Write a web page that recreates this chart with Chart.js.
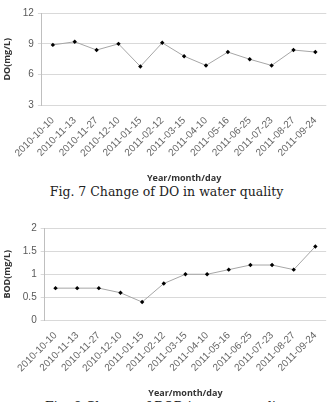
<!DOCTYPE html>
<html>
<head>
<meta charset="utf-8">
<script src="https://cdn.jsdelivr.net/npm/chart.js@4.4.1/dist/chart.umd.min.js"></script>
<style>
    body { margin: 0; background: #fff; width: 333px; height: 402px; overflow: hidden; position: relative; }
    canvas { position: absolute; left: 0; }
    .caption { position: absolute; left: 0; width: 333px; text-align: center; font-family: "DejaVu Serif", serif; font-size: 12.5px; color: #222; white-space: nowrap; }
</style>
</head>
<body>
<canvas id="doChart" width="333" height="184" style="top:0px"></canvas>
<div class="caption" style="top:184px">Fig. 7 Change of DO in water quality</div>
<canvas id="bodChart" width="333" height="184" style="top:215px"></canvas>
<div class="caption" style="top:399px">Fig. 8 Change of BOD in water quality</div>
<script>
const dates = ["2010-10-10", "2010-11-13", "2010-11-27", "2010-12-10", "2011-01-15", "2011-02-12", "2011-03-15",
    "2011-04-10", "2011-05-16", "2011-06-25", "2011-07-23", "2011-08-27", "2011-09-24"]
const doValues = [8.9, 9.2, 8.4, 9.0, 6.8, 9.1, 7.8, 6.9, 8.2, 7.5, 6.9, 8.4, 8.2]
const bodValues = [0.7, 0.7, 0.7, 0.6, 0.4, 0.8, 1.0, 1.0, 1.1, 1.2, 1.2, 1.1, 1.6]
const doTicks = [3, 6, 9, 12]
const bodTicks = [0, 0.5, 1, 1.5, 2]

function CreateLineChart(canvasId, values, ticks, yTitle) {
    const chartData = {
        labels: dates,
        datasets: [
            {
                label: yTitle,
                data: values,
                borderColor: "#a6a6a6",
                borderWidth: 1,
                pointStyle: "rectRot",
                pointRadius: 2.2,
                pointBackgroundColor: "#000",
                pointBorderColor: "#000",
                pointBorderWidth: 0,
                tension: 0
            },
        ],
    };
    // config
    const config = {
        type: "line",
        data: chartData,
        options: {
            responsive: false,
            animation: false,
            layout: { padding: { top: 13, right: 2, left: 2, bottom: 0 } },
            plugins: {
                legend: { display: false },
                tooltip: { enabled: false },
            },
            scales: {
                x: {
                    offset: true,
                    grid: { display: false, drawTicks: false },
                    border: { display: false },
                    ticks: {
                        minRotation: 45,
                        maxRotation: 45,
                        autoSkip: false,
                        padding: 9,
                        color: "#666",
                        font: { family: "'Liberation Sans', sans-serif", size: 10 }
                    },
                    title: {
                        display: true,
                        text: "Year/month/day",
                        color: "#333",
                        padding: { top: 5, bottom: 0 },
                        font: { family: "'Open Sans', sans-serif", size: 9, weight: "bold" }
                    }
                },
                y: {
                    min: ticks[0],
                    max: ticks[ticks.length - 1],
                    afterBuildTicks: function (axis) {
                        axis.ticks = ticks.map(v => ({ value: v }))
                    },
                    grid: { color: "#d9d9d9", lineWidth: 1, tickLength: 4 },
                    border: { color: "#bfbfbf" },
                    ticks: {
                        padding: 4,
                        color: "#595959",
                        callback: function (value) { return String(value) },
                        font: { family: "'Liberation Sans', sans-serif", size: 10 }
                    },
                    title: {
                        display: true,
                        text: yTitle,
                        color: "#333",
                        padding: { top: 0, bottom: 6 },
                        font: { family: "'Open Sans', sans-serif", size: 9, weight: "bold" }
                    }
                }
            }
        }
    };

    // render init block
    return new Chart(document.getElementById(canvasId), config);
}

CreateLineChart("doChart", doValues, doTicks, "DO(mg/L)")
CreateLineChart("bodChart", bodValues, bodTicks, "BOD(mg/L)")
</script>
</body>
</html>
